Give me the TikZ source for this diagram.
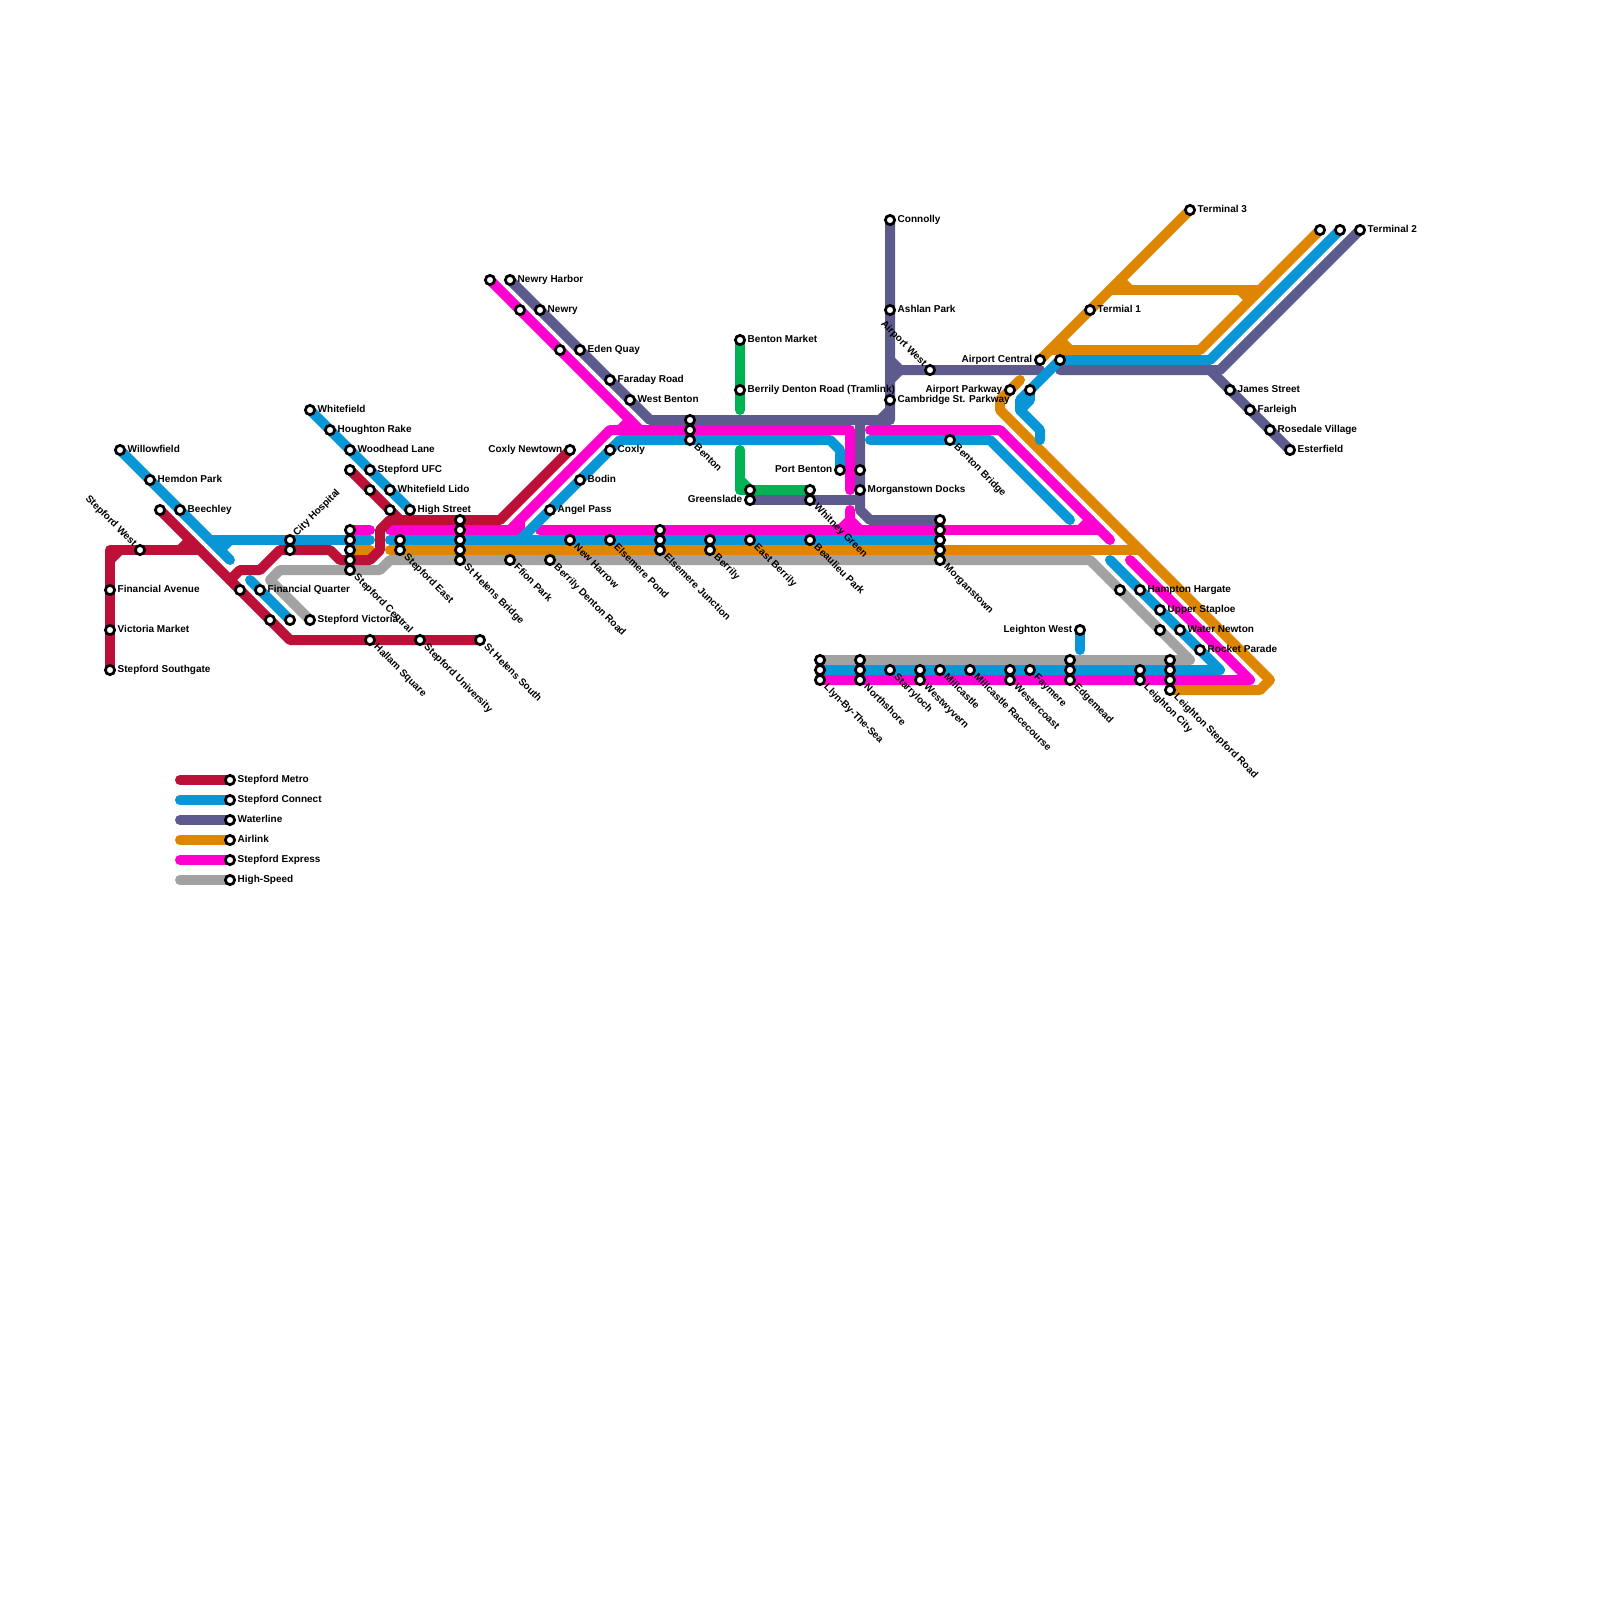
\documentclass[tikz,border=0pt]{standalone}
\usepackage{fontspec}
\setmainfont{Liberation Sans}
\usetikzlibrary{backgrounds}
\definecolor{metroc}{HTML}{BD1038}
\definecolor{connectc}{HTML}{0896D7}
\definecolor{waterc}{HTML}{5D5B8E}
\definecolor{airc}{HTML}{DF8600}
\definecolor{expressc}{HTML}{FF00D0}
\definecolor{speedc}{HTML}{A2A2A2}
\definecolor{tramc}{HTML}{00B251}
\tikzset{
  stn/.style={circle,draw=black,fill=white,line width=1.95pt,minimum size=6.6pt,inner sep=0pt,outer sep=0pt},
  txt/.style={font=\fontsize{7.11pt}{8pt}\selectfont\bfseries,inner sep=0pt,text=black},
  lr/.style={txt,anchor=base west,xshift=5.3pt,yshift=-1.8pt},
  ll/.style={txt,anchor=base east,xshift=-5.3pt,yshift=-1.8pt},
  ld/.style={txt,anchor=base west,xshift=2.5pt,yshift=-5.5pt,rotate=-45},
  lu/.style={txt,anchor=base east,xshift=-4.9pt,yshift=2.1pt,rotate=-45},
  lq/.style={txt,anchor=base west,xshift=5pt,yshift=2.5pt,rotate=45},
  ln/.style={line width=7.11pt,line cap=round,line join=round},
  metroln/.style={ln,draw=metroc},
  connectln/.style={ln,draw=connectc},
  waterln/.style={ln,draw=waterc},
  airln/.style={ln,draw=airc},
  expressln/.style={ln,draw=expressc},
  speedln/.style={ln,draw=speedc},
  tramln/.style={ln,draw=tramc},
}
\begin{document}
\begin{tikzpicture}[x=0.025cm,y=-0.025cm]
\useasboundingbox (0,0) rectangle (1600,1600);
% west end
\node[stn] (willow) at (120,450) {}; \node[lr] (willowt) at (willow) {Willowfield};
\node[stn] (hemdon) at (150,480) {}; \node[lr] (hemdont) at (hemdon) {Hemdon Park};
\node[stn] (beech) at (180,510) {}; \node[lr] (beecht) at (beech) {Beechley};
\node[stn] (mtop) at (160,510) {};
\node[stn] (swest) at (140,550) {}; \node[lu] (swestt) at (swest) {Stepford West};
\node[stn] (finav) at (110,590) {}; \node[lr] (finavt) at (finav) {Financial Avenue};
\node[stn] (vicm) at (110,630) {}; \node[lr] (vicmt) at (vicm) {Victoria Market};
\node[stn] (south) at (110,670) {}; \node[lr] (southt) at (south) {Stepford Southgate};
\node[stn] (mfin) at (240,590) {};
\node[stn] (finq) at (260,590) {}; \node[lr] (finqt) at (finq) {Financial Quarter};
\node[stn] (mvic) at (270,620) {};
\node[stn] (cvic) at (290,620) {};
\node[stn] (svic) at (310,620) {}; \node[lr] (svict) at (svic) {Stepford Victoria};
\node[stn] (city) at (290,540) {}; \node[lq] (cityt) at (city) {City Hospital};
\node[stn] (citym) at (290,550) {};
% whitefield branch
\node[stn] (whitef) at (310,410) {}; \node[lr] (whiteft) at (whitef) {Whitefield};
\node[stn] (hought) at (330,430) {}; \node[lr] (houghtt) at (hought) {Houghton Rake};
\node[stn] (woodh) at (350,450) {}; \node[lr] (woodht) at (woodh) {Woodhead Lane};
\node[stn] (ufc) at (370,470) {}; \node[lr] (ufct) at (ufc) {Stepford UFC};
\node[stn] (lido) at (390,490) {}; \node[lr] (lidot) at (lido) {Whitefield Lido};
\node[stn] (high) at (410,510) {}; \node[lr] (hight) at (high) {High Street};
\node[stn] (mw1) at (350,470) {};
\node[stn] (mw2) at (370,490) {};
\node[stn] (mw3) at (390,510) {};
% central stacks
\node[stn] (sc1) at (350,530) {};
\node[stn] (sc2) at (350,540) {};
\node[stn] (sc3) at (350,550) {};
\node[stn] (sc4) at (350,560) {};
\node[stn] (sc5) at (350,570) {}; \node[ld] (sct) at (sc5) {Stepford Central};
\node[stn] (se1) at (400,540) {};
\node[stn] (se2) at (400,550) {}; \node[ld] (set) at (se2) {Stepford East};
\node[stn] (sh1) at (460,520) {};
\node[stn] (sh2) at (460,530) {};
\node[stn] (sh3) at (460,540) {};
\node[stn] (sh4) at (460,550) {};
\node[stn] (sh5) at (460,560) {}; \node[ld] (sht) at (sh5) {St Helens Bridge};
\node[stn] (hallam) at (370,640) {}; \node[ld] (hallamt) at (hallam) {Hallam Square};
\node[stn] (univ) at (420,640) {}; \node[ld] (univt) at (univ) {Stepford University};
\node[stn] (hsouth) at (480,640) {}; \node[ld] (hsoutht) at (hsouth) {St Helens South};
\node[stn] (flion) at (510,560) {}; \node[ld] (fliont) at (flion) {Ffion Park};
\node[stn] (bdenton) at (550,560) {}; \node[ld] (bdentont) at (bdenton) {Berrily Denton Road};
\node[stn] (harrow) at (570,540) {}; \node[ld] (harrowt) at (harrow) {New Harrow};
\node[stn] (epond) at (610,540) {}; \node[ld] (epondt) at (epond) {Elsemere Pond};
\node[stn] (ej1) at (660,530) {};
\node[stn] (ej2) at (660,540) {};
\node[stn] (ej3) at (660,550) {}; \node[ld] (ejt) at (ej3) {Elsemere Junction};
\node[stn] (ber1) at (710,540) {};
\node[stn] (ber2) at (710,550) {}; \node[ld] (bert) at (ber2) {Berrily};
\node[stn] (eber) at (750,540) {}; \node[ld] (ebert) at (eber) {East Berrily};
\node[stn] (beau) at (810,540) {}; \node[ld] (beaut) at (beau) {Beaulieu Park};
\node[stn] (mg1) at (940,520) {};
\node[stn] (mg2) at (940,530) {};
\node[stn] (mg3) at (940,540) {};
\node[stn] (mg4) at (940,550) {};
\node[stn] (mg5) at (940,560) {}; \node[ld] (mgt) at (mg5) {Morganstown};
% newry and benton
\node[stn] (xn1) at (490,280) {};
\node[stn] (nharbor) at (510,280) {}; \node[lr] (nharbort) at (nharbor) {Newry Harbor};
\node[stn] (xn2) at (520,310) {};
\node[stn] (newry) at (540,310) {}; \node[lr] (newryt) at (newry) {Newry};
\node[stn] (xn3) at (560,350) {};
\node[stn] (eden) at (580,350) {}; \node[lr] (edent) at (eden) {Eden Quay};
\node[stn] (faraday) at (610,380) {}; \node[lr] (faradayt) at (faraday) {Faraday Road};
\node[stn] (wbenton) at (630,400) {}; \node[lr] (wbentont) at (wbenton) {West Benton};
\node[stn] (cnewt) at (570,450) {}; \node[ll] (cnewtt) at (cnewt) {Coxly Newtown};
\node[stn] (coxly) at (610,450) {}; \node[lr] (coxlyt) at (coxly) {Coxly};
\node[stn] (bodin) at (580,480) {}; \node[lr] (bodint) at (bodin) {Bodin};
\node[stn] (angel) at (550,510) {}; \node[lr] (angelt) at (angel) {Angel Pass};
\node[stn] (ben1) at (690,420) {};
\node[stn] (ben2) at (690,430) {};
\node[stn] (ben3) at (690,440) {}; \node[ld] (bent) at (ben3) {Benton};
\node[stn] (bmarket) at (740,340) {}; \node[lr] (bmarkett) at (bmarket) {Benton Market};
\node[stn] (btram) at (740,390) {}; \node[lr] (btramt) at (btram) {Berrily Denton Road (Tramlink)};
\node[stn] (gs1) at (750,490) {};
\node[stn] (gs2) at (750,500) {}; \node[ll] (gst) at (gs2) {Greenslade};
\node[stn] (wg1) at (810,490) {};
\node[stn] (wg2) at (810,500) {}; \node[ld] (wgt) at (wg2) {Whitney Green};
\node[stn] (pbenton) at (840,470) {}; \node[ll] (pbentont) at (pbenton) {Port Benton};
\node[stn] (xdock) at (860,470) {};
\node[stn] (mdocks) at (860,490) {}; \node[lr] (mdockst) at (mdocks) {Morganstown Docks};
% airport
\node[stn] (connolly) at (890,220) {}; \node[lr] (connollyt) at (connolly) {Connolly};
\node[stn] (ashlan) at (890,310) {}; \node[lr] (ashlant) at (ashlan) {Ashlan Park};
\node[stn] (cambr) at (890,400) {}; \node[lr] (cambrt) at (cambr) {Cambridge St. Parkway};
\node[stn] (awest) at (930,370) {}; \node[lu] (awestt) at (awest) {Airport West};
\node[stn] (bbridge) at (950,440) {}; \node[ld] (bbridget) at (bbridge) {Benton Bridge};
\node[stn] (acentral) at (1040,360) {}; \node[ll] (acentralt) at (acentral) {Airport Central};
\node[stn] (xac) at (1060,360) {};
\node[stn] (aparkway) at (1010,390) {}; \node[ll] (aparkwayt) at (aparkway) {Airport Parkway};
\node[stn] (xap) at (1030,390) {};
\node[stn] (term1) at (1090,310) {}; \node[lr] (term1t) at (term1) {Termial 1};
\node[stn] (term3) at (1190,210) {}; \node[lr] (term3t) at (term3) {Terminal 3};
\node[stn] (xt1) at (1320,230) {};
\node[stn] (xt2) at (1340,230) {};
\node[stn] (term2) at (1360,230) {}; \node[lr] (term2t) at (term2) {Terminal 2};
\node[stn] (james) at (1230,390) {}; \node[lr] (jamest) at (james) {James Street};
\node[stn] (farl) at (1250,410) {}; \node[lr] (farlt) at (farl) {Farleigh};
\node[stn] (rose) at (1270,430) {}; \node[lr] (roset) at (rose) {Rosedale Village};
\node[stn] (ester) at (1290,450) {}; \node[lr] (estert) at (ester) {Esterfield};
% south east
\node[stn] (xh) at (1120,590) {};
\node[stn] (hampton) at (1140,590) {}; \node[lr] (hamptont) at (hampton) {Hampton Hargate};
\node[stn] (upper) at (1160,610) {}; \node[lr] (uppert) at (upper) {Upper Staploe};
\node[stn] (xw) at (1160,630) {};
\node[stn] (water) at (1180,630) {}; \node[lr] (watert) at (water) {Water Newton};
\node[stn] (rocket) at (1200,650) {}; \node[lr] (rockett) at (rocket) {Rocket Parade};
\node[stn] (lwest) at (1080,630) {}; \node[ll] (lwestt) at (lwest) {Leighton West};
\node[stn] (ll1) at (820,660) {};
\node[stn] (ll2) at (820,670) {};
\node[stn] (ll3) at (820,680) {}; \node[ld] (llt) at (ll3) {Llyn-By-The-Sea};
\node[stn] (ns1) at (860,660) {};
\node[stn] (ns2) at (860,670) {};
\node[stn] (ns3) at (860,680) {}; \node[ld] (nst) at (ns3) {Northshore};
\node[stn] (starry) at (890,670) {}; \node[ld] (starryt) at (starry) {Starryloch};
\node[stn] (ww1) at (920,670) {};
\node[stn] (ww2) at (920,680) {}; \node[ld] (wwt) at (ww2) {Westwyvern};
\node[stn] (mill) at (940,670) {}; \node[ld] (millt) at (mill) {Millcastle};
\node[stn] (millr) at (970,670) {}; \node[ld] (millrt) at (millr) {Millcastle Racecourse};
\node[stn] (wc1) at (1010,670) {};
\node[stn] (wc2) at (1010,680) {}; \node[ld] (wct) at (wc2) {Westercoast};
\node[stn] (faym) at (1030,670) {}; \node[ld] (faymt) at (faym) {Faymere};
\node[stn] (ed1) at (1070,660) {};
\node[stn] (ed2) at (1070,670) {};
\node[stn] (ed3) at (1070,680) {}; \node[ld] (edt) at (ed3) {Edgemead};
\node[stn] (lc1) at (1140,670) {};
\node[stn] (lc2) at (1140,680) {}; \node[ld] (lct) at (lc2) {Leighton City};
\node[stn] (ls1) at (1170,660) {};
\node[stn] (ls2) at (1170,670) {};
\node[stn] (ls3) at (1170,680) {};
\node[stn] (ls4) at (1170,690) {}; \node[ld] (lst) at (ls4) {Leighton Stepford Road};
% legend
\node[stn] (key1) at (230,780) {}; \node[lr] (key1t) at (key1) {Stepford Metro};
\node[stn] (key2) at (230,800) {}; \node[lr] (key2t) at (key2) {Stepford Connect};
\node[stn] (key3) at (230,820) {}; \node[lr] (key3t) at (key3) {Waterline};
\node[stn] (key4) at (230,840) {}; \node[lr] (key4t) at (key4) {Airlink};
\node[stn] (key5) at (230,860) {}; \node[lr] (key5t) at (key5) {Stepford Express};
\node[stn] (key6) at (230,880) {}; \node[lr] (key6t) at (key6) {High-Speed};
\begin{pgfonlayer}{background}
% waterline
\draw[waterln] (nharbor.center) -- (650,420) -- (890,420) -- (connolly.center);
\draw[waterln] (880,420) -- (890,410);
\draw[waterln] (890,360) -- (900,370) -- (1040,370);
\draw[waterln] (890,380) -- (900,370);
\draw[waterln] (term2.center) -- (1220,370) -- (1060,370);
\draw[waterln] (ester.center) -- (1210,370);
\draw[waterln] (860,420) -- (860,510) -- (870,520) -- (mg1.center);
\draw[waterln] (gs2.center) -- (860,500);
\draw[waterln] (180,820) -- (key3.center);
% airlink
\draw[airln] (350,550) -- (370,550);
\draw[airln] (390,550) -- (1140,550);
\draw[airln] (1020,380) -- (1000,400) -- (1000,410) -- (1270,680) -- (1260,690) -- (ls4.center);
\draw[airln] (term3.center) -- (acentral.center);
\draw[airln] (1050,350) -- (1200,350) -- (xt1.center);
\draw[airln] (1060,340) -- (1070,350);
\draw[airln] (1110,290) -- (1260,290);
\draw[airln] (1120,280) -- (1130,290);
\draw[airln] (1240,290) -- (1250,300);
\draw[airln] (180,840) -- (key4.center);
% express
\draw[expressln] (350,530) -- (370,530);
\draw[expressln] (390,530) -- (510,530) -- (610,430) -- (850,430) -- (850,490);
\draw[expressln] (510,530) -- (520,530) -- (520,520);
\draw[expressln] (xn1.center) -- (640,430);
\draw[expressln] (620,430) -- (630,420);
\draw[expressln] (540,530) -- (1100,530);
\draw[expressln] (1080,530) -- (1090,520);
\draw[expressln] (870,430) -- (1000,430) -- (1110,540);
\draw[expressln] (850,510) -- (850,520) -- (840,530);
\draw[expressln] (850,520) -- (860,530);
\draw[expressln] (1130,560) -- (1250,680) -- (ll3.center);
\draw[expressln] (180,860) -- (key5.center);
% connect
\draw[connectln] (willow.center) -- (230,560);
\draw[connectln] (210,540) -- (370,540);
\draw[connectln] (220,550) -- (230,540);
\draw[connectln] (250,580) -- (cvic.center);
\draw[connectln] (whitef.center) -- (high.center);
\draw[connectln] (390,540) -- (mg3.center);
\draw[connectln] (520,540) -- (620,440) -- (830,440) -- (840,450) -- (pbenton.center);
\draw[connectln] (870,440) -- (990,440) -- (1070,520);
\draw[connectln] (xt2.center) -- (1210,360) -- (xac.center) -- (1020,400) -- (1020,410) -- (1040,430) -- (1040,440);
\draw[connectln] (xap.center) -- (1030,400) -- (1020,410);
\draw[connectln] (lwest.center) -- (1080,650);
\draw[connectln] (1110,560) -- (1220,670) -- (ll2.center);
\draw[connectln] (180,800) -- (key2.center);
% high speed
\draw[speedln] (svic.center) -- (270,580) -- (280,570) -- (380,570) -- (390,560) -- (1090,560) -- (1190,660) -- (ll1.center);
\draw[speedln] (180,880) -- (key6.center);
% tram
\draw[tramln] (bmarket.center) -- (740,410);
\draw[tramln] (740,450) -- (740,490) -- (wg1.center);
\draw[tramln] (740,480) -- (750,490);
% metro
\draw[metroln] (south.center) -- (110,550) -- (200,550);
\draw[metroln] (110,560) -- (120,550);
\draw[metroln] (180,550) -- (190,540);
\draw[metroln] (mtop.center) -- (290,640) -- (hsouth.center);
\draw[metroln] (230,580) -- (240,570) -- (260,570) -- (280,550) -- (330,550) -- (340,560) -- (370,560) -- (380,550) -- (380,530) -- (390,520) -- (500,520) -- (cnewt.center);
\draw[metroln] (mw1.center) -- (400,520);
\draw[metroln] (180,780) -- (key1.center);
\end{pgfonlayer}
\end{tikzpicture}
\end{document}
